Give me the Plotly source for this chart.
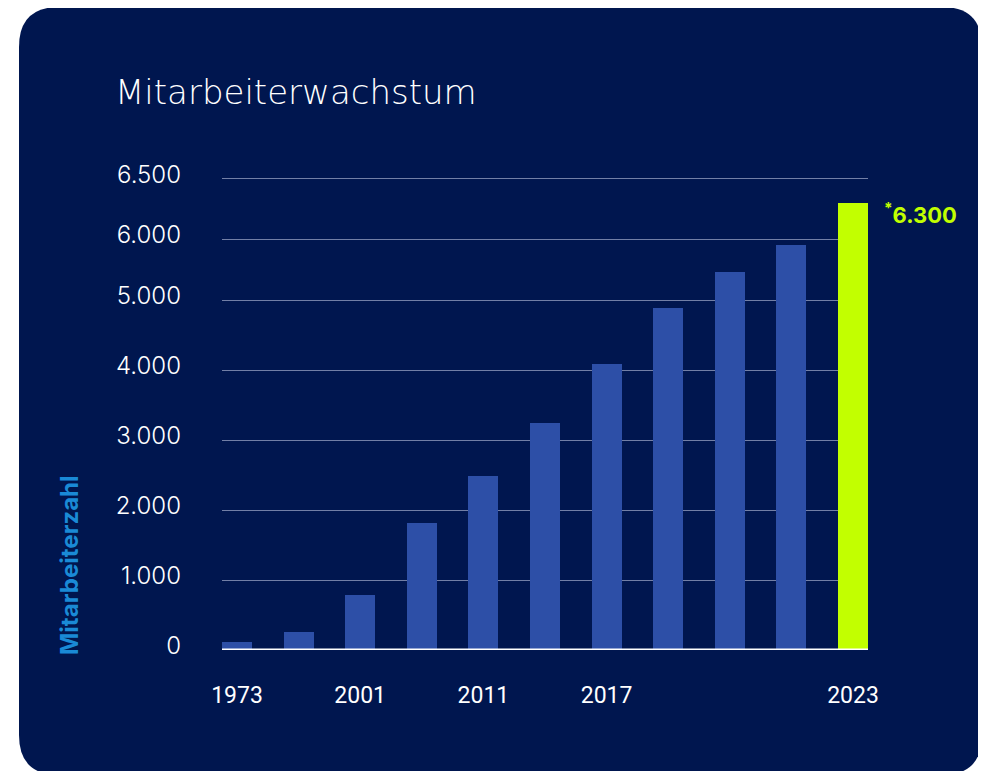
import numpy as np
import plotly.graph_objects as go

# ---- data ----
year_labels = ["1973", "", "2001", "", "2011", "", "2017", "", "", "", "2023"]
employees = [110, 260, 790, 1810, 2490, 3250, 4080, 4880, 5460, 5900, 6300]
tick_values = [0, 1000, 2000, 3000, 4000, 5000, 6000, 6500]
tick_labels = ["0", "1.000", "2.000", "3.000", "4.000", "5.000", "6.000", "6.500"]
highlight_label = "6.300"

# piecewise axis scale used by the original graphic (label value -> axis position)
scale_breaks = [0, 5000, 6000, 6500]
scale_pos = [0, 5000, 5871, 6737]


def to_axis(v):
    return np.interp(v, scale_breaks, scale_pos)


NAVY = "#00164f"
BAR_BLUE = "#2d4fa7"
GREEN = "#c2ff00"
GRID = "rgba(190,198,225,0.6)"

# page body has an 8px margin, so the figure is laid out in page coords minus 8
OFF = 8
W, H = 986 - OFF, 771 - OFF
L, R, T, B = 222 - OFF, 118, 174 - OFF, 121
PW, PH = W - L - R, H - T - B
n = len(employees)
bw = 0.487
x_idx = list(range(n))
lab_idx = [i for i, s in enumerate(year_labels) if s]
lab_txt = [year_labels[i] for i in lab_idx]


def px_to_paper(px, py):
    # px, py given in page (reference) pixels
    return (px - OFF - L) / PW, (H - B - (py - OFF)) / PH


def P(x, y):
    a, b = px_to_paper(x, y)
    return f"{a:.5f},{b:.5f}"


# rounded background panel (page pixels)
x0, y0, x1, y1, r = 19, 7, 982, 775, 40
path = (
    f"M {P(x0 + r, y0)} L {P(x1 - r, y0)} Q {P(x1, y0)} {P(x1, y0 + r)} "
    f"L {P(x1, y1 - r)} Q {P(x1, y1)} {P(x1 - r, y1)} "
    f"L {P(x0 + r, y1)} Q {P(x0, y1)} {P(x0, y1 - r)} "
    f"L {P(x0, y0 + r)} Q {P(x0, y0)} {P(x0 + r, y0)} Z"
)

colors = [BAR_BLUE] * (n - 1) + [GREEN]

fig = go.Figure()
fig.add_trace(
    go.Bar(
        x=x_idx,
        y=to_axis(employees),
        width=bw,
        marker=dict(color=colors, line=dict(width=0)),
        customdata=employees,
        hovertemplate="%{customdata}<extra></extra>",
    )
)

ytx, yty = px_to_paper(69, 565)

fig.update_layout(
    width=W,
    height=H,
    margin=dict(l=L, r=R, t=T, b=B, pad=0),
    paper_bgcolor="white",
    plot_bgcolor="rgba(0,0,0,0)",
    showlegend=False,
    bargap=0,
    shapes=[
        dict(type="path", path=path, xref="paper", yref="paper",
             fillcolor=NAVY, line=dict(width=0), layer="below"),
        dict(type="line", xref="paper", yref="y", x0=0, x1=1, y0=0, y1=0,
             line=dict(color="white", width=3), layer="above"),
    ],
    title=dict(
        text="Mitarbeiterwachstum",
        x=(115 - OFF) / W, xanchor="left",
        y=1 - (92 - OFF) / H, yanchor="middle", yref="container",
        font=dict(family="DejaVu Sans", size=34, color="white", weight=200),
    ),
    xaxis=dict(
        range=[-bw / 2, n - 1 + bw / 2],
        tickmode="array",
        tickvals=lab_idx,
        ticktext=lab_txt,
        showgrid=False,
        zeroline=False,
        showline=False,
        ticks="",
        ticklabelstandoff=29,
        tickfont=dict(family="Roboto", size=23, color="white"),
    ),
    yaxis=dict(
        range=[0, 6800],
        tickmode="array",
        tickvals=to_axis(tick_values),
        ticktext=tick_labels,
        showgrid=True,
        gridcolor=GRID,
        gridwidth=1,
        zeroline=False,
        showline=False,
        ticks="",
        ticklabelstandoff=40,
        ticklabelshift=-4,
        tickfont=dict(family="Inter", size=24, color="white", weight=300),
    ),
    annotations=[
        dict(
            text="<b>Mitarbeiterzahl</b>",
            textangle=-90,
            xref="paper", yref="paper",
            x=ytx, y=yty,
            xanchor="center", yanchor="middle",
            showarrow=False,
            font=dict(family="Inter", size=24, color="#1a8ad6"),
        ),
        dict(
            text="<b><sup>*</sup>" + highlight_label + "</b>",
            xref="x", yref="y",
            x=n - 1 + bw / 2, y=to_axis(6300),
            xanchor="left", yanchor="middle",
            xshift=14, yshift=-11,
            showarrow=False,
            font=dict(family="Inter", size=22, color=GREEN),
        ),
    ],
)

fig.write_html("out.html")
